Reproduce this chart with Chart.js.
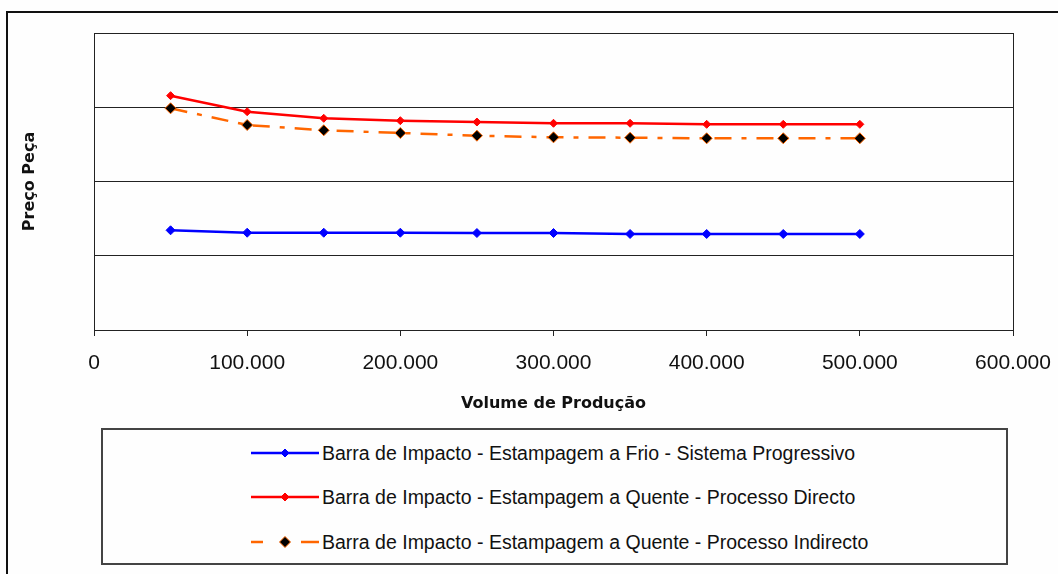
<!DOCTYPE html>
<html>
<head>
<meta charset="utf-8">
<script src="https://cdn.jsdelivr.net/npm/chart.js@4"></script>
<style>
  body { margin: 0; background: #fff; }
  #wrap { position: relative; width: 1058px; height: 574px; overflow: hidden; background: #fefefe; }
  #frame { position: absolute; left: 6px; top: 11px; width: 1200px; height: 700px; border-left: 2px solid #111; border-top: 2px solid #111; }
  #chartBox { position: absolute; left: 0; top: 0; width: 1058px; height: 574px; }
  #legend { position: absolute; left: 101px; top: 428px; width: 907px; height: 137px; box-sizing: border-box; border: 2px solid #444; background: #fefefe; }
  .item { position: absolute; left: 147px; height: 24px; font: 19.5px "Liberation Sans", Arial, sans-serif; color: #111; white-space: nowrap; }
  .item svg { position: absolute; left: 0; top: 2px; }
  .item span { position: absolute; left: 72px; top: 0; line-height: 24px; }
</style>
</head>
<body>
<div id="wrap">
  <div id="frame"></div>
  <div id="chartBox"><canvas id="myChart"></canvas></div>
  <div id="legend"></div>
</div>
<script>
var volumes = [50000, 100000, 150000, 200000, 250000, 300000, 350000, 400000, 450000, 500000];
var frioProgressivo = [1.343, 1.310, 1.310, 1.310, 1.306, 1.306, 1.293, 1.293, 1.293, 1.293];
var quenteDirecto = [3.156, 2.940, 2.851, 2.819, 2.801, 2.784, 2.784, 2.770, 2.770, 2.770];
var quenteIndirecto = [2.986, 2.761, 2.690, 2.653, 2.617, 2.595, 2.590, 2.582, 2.582, 2.582];
var seriesNames = [
  "Barra de Impacto - Estampagem a Frio - Sistema Progressivo",
  "Barra de Impacto - Estampagem a Quente - Processo Directo",
  "Barra de Impacto - Estampagem a Quente - Processo Indirecto"
];

function points(vals) {
  return volumes.map(function (v, i) { return {x: v, y: vals[i]}; });
}

// 100000 -> "100.000"
function fmt(v) {
  return String(v).replace(/\B(?=(\d{3})+(?!\d))/g, ".");
}

// right edge of the plot box
var plotBorder = {
  id: "plotBorder",
  afterDraw: function (chart) {
    var a = chart.chartArea, ctx = chart.ctx;
    ctx.save();
    ctx.strokeStyle = "#222";
    ctx.lineWidth = 1;
    ctx.beginPath();
    ctx.moveTo(Math.round(a.right) + 0.5, a.top);
    ctx.lineTo(Math.round(a.right) + 0.5, a.bottom);
    ctx.stroke();
    ctx.restore();
  }
};

new Chart("myChart", {
  type: "line",
  data: {
    datasets: [{
      label: seriesNames[0],
      data: points(frioProgressivo),
      borderColor: "#0000ff",
      backgroundColor: "#0000ff",
      borderWidth: 2.5,
      pointStyle: "rectRot",
      pointRadius: 4.5,
      pointBorderWidth: 1,
      tension: 0
    }, {
      label: seriesNames[1],
      data: points(quenteDirecto),
      borderColor: "#ff0000",
      backgroundColor: "#ff0000",
      borderWidth: 2.5,
      pointStyle: "rectRot",
      pointRadius: 4,
      pointBorderWidth: 1,
      tension: 0
    }, {
      label: seriesNames[2],
      data: points(quenteIndirecto),
      borderColor: "#ff6600",
      backgroundColor: "#000000",
      borderWidth: 2.5,
      borderDash: [17, 10, 5, 10],
      pointStyle: "rectRot",
      pointRadius: 5.5,
      pointBorderWidth: 1,
      pointBorderColor: "#ff6600",
      tension: 0
    }]
  },
  options: {
    responsive: true,
    maintainAspectRatio: false,
    animation: false,
    layout: {padding: {left: 0, top: 33, right: 45, bottom: 161}},
    plugins: {
      legend: {display: false},
      tooltip: {enabled: false}
    },
    scales: {
      x: {
        type: "linear",
        min: 0,
        max: 600000,
        afterFit: function (s) {
          s.height = 83;
          s.paddingLeft = 0;
          s.paddingRight = 0;
        },
        ticks: {
          stepSize: 100000,
          padding: 15,
          color: "#111",
          font: {family: "Liberation Sans", size: 21},
          callback: function (v) { return fmt(v); }
        },
        grid: {drawOnChartArea: false, tickLength: 6, color: "#222"},
        border: {display: true, color: "#222", width: 1},
        title: {
          display: true,
          text: "Volume de Produção",
          color: "#111",
          font: {family: "DejaVu Sans", size: 16, weight: "bold"},
          padding: {top: 0, bottom: 0}
        }
      },
      y: {
        min: 0,
        max: 4,
        afterFit: function (s) { s.width = 94; },
        ticks: {display: false, stepSize: 1},
        grid: {color: "#222", drawTicks: false},
        border: {display: true, color: "#222", width: 1},
        title: {
          display: true,
          text: "Preço Peça",
          color: "#111",
          font: {family: "DejaVu Sans", size: 16, weight: "bold"},
          padding: {top: 20, bottom: 0}
        }
      }
    }
  },
  plugins: [plotBorder]
});

// legend box, built from the same series settings
var legendRows = [
  {color: "#0000ff", fill: "#0000ff", r: 4, dashed: false},
  {color: "#ff0000", fill: "#ff0000", r: 4, dashed: false},
  {color: "#ff6600", fill: "#000000", r: 5.5, dashed: true}
];
var rowTops = [11, 55, 100];
var legendEl = document.getElementById("legend");
legendRows.forEach(function (row, i) {
  var line;
  if (row.dashed) {
    line = '<line x1="1" y1="10" x2="13" y2="10" stroke="' + row.color + '" stroke-width="2.5"/>' +
           '<line x1="51" y1="10" x2="69" y2="10" stroke="' + row.color + '" stroke-width="2.5"/>';
  } else {
    line = '<line x1="1" y1="10" x2="69" y2="10" stroke="' + row.color + '" stroke-width="2.5"/>';
  }
  var c = 35, r = row.r;
  var diamond = '<polygon points="' + c + ',' + (10 - r) + ' ' + (c + r) + ',10 ' + c + ',' + (10 + r) + ' ' + (c - r) + ',10" fill="' + row.fill + '" stroke="' + row.color + '" stroke-width="1"/>';
  var div = document.createElement("div");
  div.className = "item";
  div.style.top = rowTops[i] + "px";
  div.innerHTML = '<svg width="70" height="20">' + line + diamond + '</svg><span>' + seriesNames[i] + '</span>';
  legendEl.appendChild(div);
});
</script>
</body>
</html>
